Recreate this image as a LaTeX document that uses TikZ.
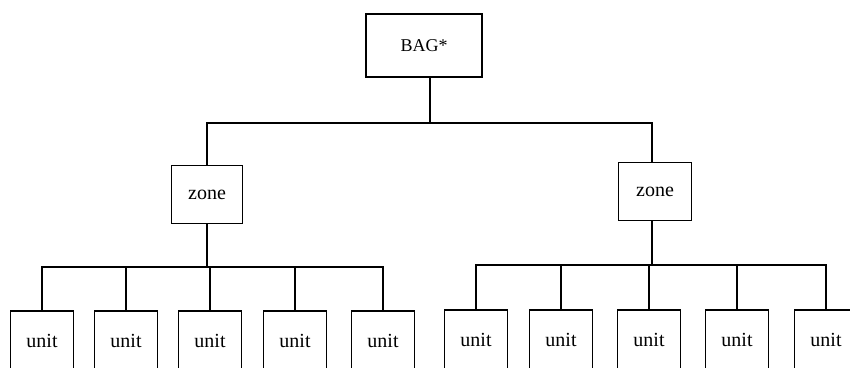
\documentclass[tikz,border=0pt]{standalone}
\usepackage{fontspec}
\setmainfont{Liberation Serif}
\begin{document}
\begin{tikzpicture}[x=1pt,y=-1pt,
  box/.style={draw,line width=1.5pt,inner sep=0pt,font=\fontsize{20}{24}\selectfont},
  unitbox/.style={box,minimum width=63pt,minimum height=60pt},
  zonebox/.style={box,minimum width=71pt,minimum height=58pt},
  conn/.style={line width=1.6pt}]
\useasboundingbox (0,0) rectangle (850,367);
\clip (0,0) rectangle (850,367);
\node[box,minimum width=116pt,minimum height=63pt,font=\fontsize{18}{22}\selectfont] (bag) at (424,45.5) {BAG*};
\node[zonebox] (zL) at (207,194.5) {zone};
\node[zonebox,minimum width=73pt] (zR) at (655,191.5) {zone};
\foreach \i/\x in {1/42,2/126,3/210,4/295,5/383}
  \node[unitbox] (uL\i) at (\x,341) {unit};
\foreach \i/\x in {1/476,2/561,3/649,4/737,5/826}
  \node[unitbox] (uR\i) at (\x,340) {unit};
\coordinate (b0) at (430,123);
\coordinate (bL) at (207,267);
\coordinate (bR) at (652,265);
\draw[conn] (bag.south -| b0) -- (b0);
\draw[conn] (zL.north) |- (b0) -| (zR.north -| bR);
\draw[conn] (zL.south) -- (bL);
\draw[conn] (uL1.north) |- (bL) -| (uL5.north);
\foreach \i in {2,3,4} \draw[conn] (uL\i.north) -- (uL\i.north |- bL);
\draw[conn] (zR.south -| bR) -- (bR);
\draw[conn] (uR1.north) |- (bR) -| (uR5.north);
\foreach \i in {2,3,4} \draw[conn] (uR\i.north) -- (uR\i.north |- bR);
\end{tikzpicture}
\end{document}
